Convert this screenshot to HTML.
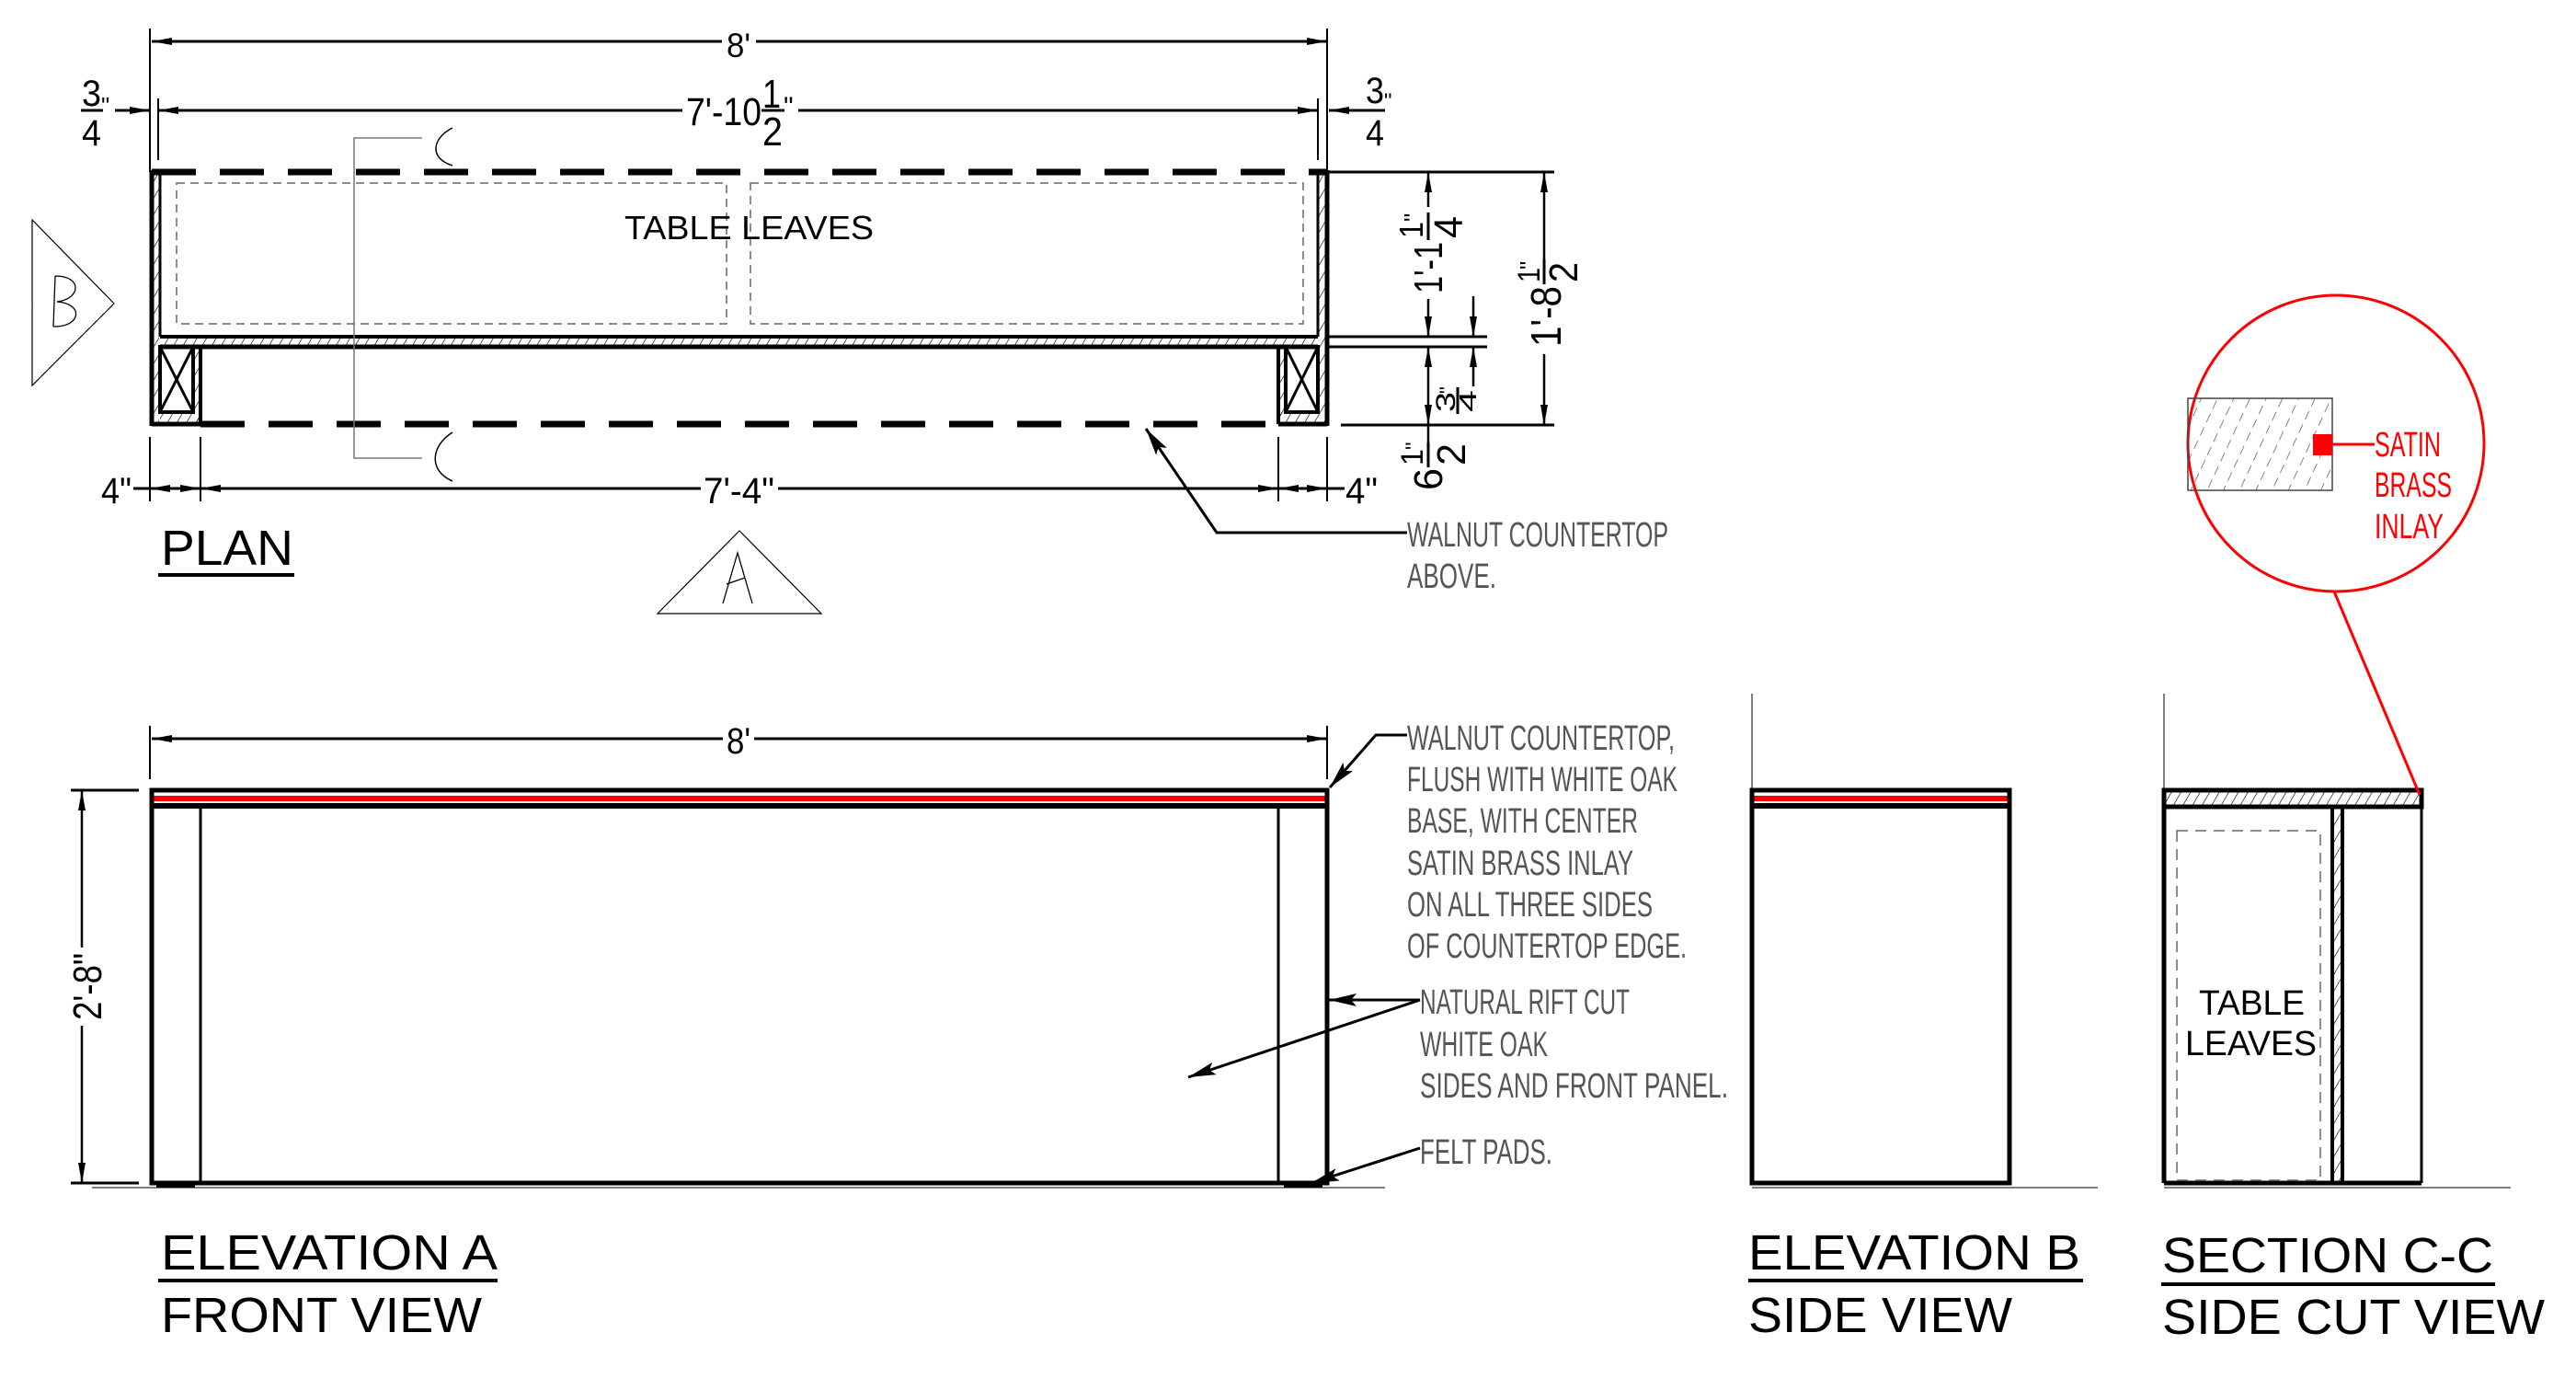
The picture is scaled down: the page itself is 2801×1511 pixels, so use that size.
<!DOCTYPE html>
<html><head><meta charset="utf-8"><style>
html,body{margin:0;padding:0;background:#fff}
svg{display:block}
text{font-family:"Liberation Sans",sans-serif}
.d{font-size:46px;fill:#000}
.t{font-size:54px;fill:#000}
.h{font-size:38px;fill:#555;font-weight:normal}
.r{font-size:38px;fill:#f00}
</style></head><body>
<svg width="2801" height="1511" viewBox="0 0 2801 1511" xmlns="http://www.w3.org/2000/svg">
<defs>
<marker id="a" viewBox="0 0 22 8" refX="22" refY="4" markerWidth="22" markerHeight="8" markerUnits="userSpaceOnUse" orient="auto-start-reverse"><path d="M0,0 L22,4 L0,8 z" fill="#000"/></marker>
<marker id="b" viewBox="0 0 30 14" refX="30" refY="7" markerWidth="30" markerHeight="14" markerUnits="userSpaceOnUse" orient="auto-start-reverse"><path d="M0,0 L30,7 L0,14 L6,7 z" fill="#000"/></marker>
<pattern id="hp" width="9" height="9" patternUnits="userSpaceOnUse" patternTransform="rotate(30)"><line x1="0" y1="0" x2="0" y2="9" stroke="#000" stroke-width="1.3"/></pattern>
<pattern id="hp2" width="16" height="16" patternUnits="userSpaceOnUse" patternTransform="rotate(25)"><line x1="0" y1="0" x2="0" y2="10" stroke="#444" stroke-width="1.3"/></pattern>
</defs>
<g stroke="#000" fill="none">
<line x1="163" y1="31" x2="163" y2="187" stroke-width="2"/>
<line x1="1443" y1="31" x2="1443" y2="187" stroke-width="2"/>
<line x1="165" y1="45" x2="785" y2="45" stroke-width="3" marker-start="url(#a)"/>
<line x1="822" y1="45" x2="1443" y2="45" stroke-width="3" marker-end="url(#a)"/>
<line x1="172" y1="107" x2="172" y2="174" stroke-width="2"/>
<line x1="1433" y1="107" x2="1433" y2="174" stroke-width="2"/>
<line x1="172" y1="120" x2="742" y2="120" stroke-width="3" marker-start="url(#a)"/>
<line x1="868" y1="120" x2="1433" y2="120" stroke-width="3" marker-end="url(#a)"/>
<line x1="125" y1="120" x2="163" y2="120" stroke-width="3" marker-end="url(#a)"/>
<line x1="1490" y1="120" x2="1445" y2="120" stroke-width="3" marker-end="url(#a)"/>
<line x1="165" y1="187" x2="1443" y2="187" stroke-width="7" stroke-dasharray="48 26"/>
<line x1="218" y1="461" x2="1390" y2="461" stroke-width="7" stroke-dasharray="48 26"/>
<rect x="166" y="187" width="7" height="274" fill="url(#hp)" stroke="none"/>
<rect x="1434" y="187" width="8" height="274" fill="url(#hp)" stroke="none"/>
<line x1="165" y1="185" x2="165" y2="463" stroke-width="5"/>
<line x1="174" y1="187" x2="174" y2="366" stroke-width="3"/>
<line x1="1443" y1="185" x2="1443" y2="463" stroke-width="5"/>
<line x1="1433" y1="187" x2="1433" y2="366" stroke-width="3"/>
<rect x="174" y="366" width="1259" height="10" fill="url(#hp)" stroke="none"/>
<line x1="174" y1="366" x2="1433" y2="366" stroke-width="4"/>
<line x1="174" y1="377" x2="1433" y2="377" stroke-width="5"/>
<rect x="192" y="199" width="598" height="153" stroke="#666" stroke-width="1.5" stroke-dasharray="9 6"/>
<rect x="816" y="199" width="601" height="153" stroke="#666" stroke-width="1.5" stroke-dasharray="9 6"/>
<rect x="210" y="377" width="8" height="84" fill="url(#hp)" stroke="none"/>
<rect x="174" y="448" width="44" height="12" fill="url(#hp)" stroke="none"/>
<rect x="174" y="377" width="36" height="71" stroke-width="4"/>
<line x1="174" y1="377" x2="210" y2="448" stroke-width="3"/><line x1="210" y1="377" x2="174" y2="448" stroke-width="3"/>
<line x1="218" y1="377" x2="218" y2="461" stroke-width="4"/>
<line x1="165" y1="461" x2="218" y2="461" stroke-width="5"/>
<rect x="1390" y="377" width="8" height="84" fill="url(#hp)" stroke="none"/>
<rect x="1390" y="448" width="44" height="12" fill="url(#hp)" stroke="none"/>
<rect x="1398" y="377" width="35" height="71" stroke-width="4"/>
<line x1="1398" y1="377" x2="1433" y2="448" stroke-width="3"/><line x1="1433" y1="377" x2="1398" y2="448" stroke-width="3"/>
<line x1="1390" y1="377" x2="1390" y2="461" stroke-width="4"/>
<line x1="1390" y1="461" x2="1443" y2="461" stroke-width="5"/>
<line x1="163" y1="475" x2="163" y2="545" stroke-width="2"/>
<line x1="218" y1="475" x2="218" y2="545" stroke-width="2"/>
<line x1="1390" y1="475" x2="1390" y2="545" stroke-width="2"/>
<line x1="1443" y1="475" x2="1443" y2="545" stroke-width="2"/>
<line x1="145" y1="531" x2="163" y2="531" stroke-width="3"/>
<line x1="163" y1="531" x2="218" y2="531" stroke-width="3" marker-start="url(#a)" marker-end="url(#a)"/>
<line x1="218" y1="531" x2="762" y2="531" stroke-width="3" marker-start="url(#a)"/>
<line x1="846" y1="531" x2="1390" y2="531" stroke-width="3" marker-end="url(#a)"/>
<line x1="1390" y1="531" x2="1443" y2="531" stroke-width="3" marker-start="url(#a)" marker-end="url(#a)"/>
<line x1="1443" y1="531" x2="1462" y2="531" stroke-width="3"/>
<line x1="1445" y1="187" x2="1690" y2="187" stroke-width="3"/>
<line x1="1458" y1="462" x2="1690" y2="462" stroke-width="3"/>
<line x1="1445" y1="366" x2="1617" y2="366" stroke-width="3"/>
<line x1="1445" y1="377" x2="1617" y2="377" stroke-width="3"/>
<line x1="1553" y1="225" x2="1553" y2="187" stroke-width="2.5" marker-end="url(#a)"/>
<line x1="1553" y1="325" x2="1553" y2="366" stroke-width="2.5" marker-end="url(#a)"/>
<line x1="1553" y1="420" x2="1553" y2="377" stroke-width="2.5" marker-end="url(#a)"/>
<line x1="1553" y1="420" x2="1553" y2="462" stroke-width="2.5" marker-end="url(#a)"/>
<line x1="1553" y1="462" x2="1553" y2="482" stroke-width="2.5"/>
<line x1="1602" y1="322" x2="1602" y2="366" stroke-width="2.5" marker-end="url(#a)"/>
<line x1="1602" y1="420" x2="1602" y2="377" stroke-width="2.5" marker-end="url(#a)"/>
<line x1="1679" y1="282" x2="1679" y2="187" stroke-width="2.5" marker-end="url(#a)"/>
<line x1="1679" y1="385" x2="1679" y2="462" stroke-width="2.5" marker-end="url(#a)"/>
<polyline points="459,150 385,150 385,498 459,498" stroke="#777" stroke-width="1.5"/>
<path d="M492,139 C470,150 466,172 492,180" stroke-width="1.5"/>
<path d="M492,470 C468,485 466,512 492,523" stroke-width="1.5"/>
<polygon points="35,239 124,330 35,419" stroke-width="1.2"/>
<path d="M60,300 L58,355 M60,300 C90,300 88,325 62,328 C92,330 88,356 58,355" stroke-width="1.3"/>
<polygon points="804,577 715,667 893,667" stroke-width="1.2"/>
<path d="M786,656 L802,601 L818,656 M790,635 L810,628" stroke-width="1.3"/>
<polyline points="1530,579 1323,579 1246,466" stroke-width="3" marker-end="url(#b)"/>
<line x1="172" y1="625" x2="320" y2="625" stroke-width="4"/>
<line x1="172" y1="1392" x2="541" y2="1392" stroke-width="4"/>
<line x1="1901" y1="1392" x2="2265" y2="1392" stroke-width="4"/>
<line x1="2350" y1="1396" x2="2713" y2="1396" stroke-width="4"/>
<line x1="163" y1="789" x2="163" y2="847" stroke-width="2"/>
<line x1="1443" y1="789" x2="1443" y2="847" stroke-width="2"/>
<line x1="165" y1="803" x2="786" y2="803" stroke-width="3" marker-start="url(#a)"/>
<line x1="820" y1="803" x2="1443" y2="803" stroke-width="3" marker-end="url(#a)"/>
<line x1="77" y1="859" x2="151" y2="859" stroke-width="3"/>
<line x1="77" y1="1286" x2="151" y2="1286" stroke-width="3"/>
<line x1="89" y1="1030" x2="89" y2="859" stroke-width="2.5" marker-end="url(#a)"/>
<line x1="89" y1="1115" x2="89" y2="1286" stroke-width="2.5" marker-end="url(#a)"/>
<line x1="100" y1="1291" x2="1506" y2="1291" stroke="#555" stroke-width="1.5"/>
<line x1="165" y1="859" x2="1443" y2="859" stroke-width="5"/>
<line x1="165" y1="868" x2="1443" y2="868" stroke="#f00" stroke-width="6"/>
<line x1="165" y1="876" x2="1443" y2="876" stroke-width="6"/>
<rect x="165" y="859" width="1278" height="427" stroke-width="5"/>
<line x1="218" y1="876" x2="218" y2="1286" stroke-width="3"/>
<line x1="1390" y1="876" x2="1390" y2="1286" stroke-width="3"/>
<rect x="170" y="1284" width="42" height="7" fill="#000" stroke="none"/>
<rect x="1396" y="1284" width="42" height="7" fill="#000" stroke="none"/>
<polyline points="1530,799 1496,799 1446,856" stroke-width="3" marker-end="url(#b)"/>
<line x1="1544" y1="1087" x2="1445" y2="1087" stroke-width="3" marker-end="url(#b)"/>
<line x1="1544" y1="1087" x2="1292" y2="1171" stroke-width="3" marker-end="url(#b)"/>
<line x1="1544" y1="1248" x2="1426" y2="1286" stroke-width="3" marker-end="url(#b)"/>
<line x1="1905" y1="754" x2="1905" y2="859" stroke="#555" stroke-width="1.5"/>
<line x1="1905" y1="1291" x2="2281" y2="1291" stroke="#555" stroke-width="1.5"/>
<line x1="1905" y1="859" x2="2185" y2="859" stroke-width="5"/>
<line x1="1905" y1="868" x2="2185" y2="868" stroke="#f00" stroke-width="6"/>
<line x1="1905" y1="876" x2="2185" y2="876" stroke-width="6"/>
<rect x="1905" y="859" width="280" height="427" stroke-width="5"/>
<line x1="2353" y1="754" x2="2353" y2="859" stroke="#555" stroke-width="1.5"/>
<line x1="2353" y1="1291" x2="2730" y2="1291" stroke="#555" stroke-width="1.5"/>
<rect x="2353" y="860" width="280" height="16" fill="url(#hp)" stroke="none"/>
<rect x="2353" y="859" width="280" height="18" stroke-width="5"/>
<rect x="2538" y="877" width="8" height="409" fill="url(#hp)" stroke="none"/>
<line x1="2536" y1="877" x2="2536" y2="1286" stroke-width="4"/>
<line x1="2547" y1="877" x2="2547" y2="1286" stroke-width="4"/>
<line x1="2353" y1="877" x2="2353" y2="1286" stroke-width="5"/>
<line x1="2633" y1="877" x2="2633" y2="1286" stroke-width="3"/>
<line x1="2353" y1="1286" x2="2633" y2="1286" stroke-width="5"/>
<rect x="2367" y="903" width="156" height="380" stroke="#666" stroke-width="1.5" stroke-dasharray="12 8"/>
<circle cx="2540" cy="482" r="161" stroke="#f00" stroke-width="3"/>
<rect x="2379" y="433" width="157" height="100" fill="url(#hp2)" stroke="#444" stroke-width="1.5"/>
<rect x="2515" y="472" width="21" height="23" fill="#f00" stroke="none"/>
<line x1="2536" y1="483" x2="2582" y2="483" stroke="#f00" stroke-width="3"/>
<line x1="2538" y1="643" x2="2631" y2="864" stroke="#f00" stroke-width="3"/>
</g>
<text class="d" x="790" y="62" textLength="26" lengthAdjust="spacingAndGlyphs" style="font-size:37px">8'</text>
<text class="d" x="746" y="136" textLength="82" lengthAdjust="spacingAndGlyphs" style="font-size:43px">7'-10</text>
<text class="d" x="829" y="117" textLength="20" lengthAdjust="spacingAndGlyphs" style="font-size:44px">1</text>
<line x1="828" y1="120" x2="853" y2="120" stroke="#000" stroke-width="3"/>
<text class="d" x="829" y="158" textLength="22" lengthAdjust="spacingAndGlyphs" style="font-size:44px">2</text>
<text class="d" x="852" y="126" style="font-size:30px">"</text>
<text class="d" x="89" y="115" textLength="21" lengthAdjust="spacingAndGlyphs" style="font-size:40px">3</text>
<line x1="88" y1="120" x2="112" y2="120" stroke="#000" stroke-width="3"/>
<text class="d" x="89" y="158" textLength="21" lengthAdjust="spacingAndGlyphs" style="font-size:40px">4</text>
<text class="d" x="110" y="124" style="font-size:26px">"</text>
<text class="d" x="1485" y="112" textLength="20" lengthAdjust="spacingAndGlyphs" style="font-size:40px">3</text>
<line x1="1484" y1="120" x2="1506" y2="120" stroke="#000" stroke-width="3"/>
<text class="d" x="1485" y="158" textLength="20" lengthAdjust="spacingAndGlyphs" style="font-size:40px">4</text>
<text class="d" x="1505" y="118" style="font-size:24px">"</text>
<text class="d" x="110" y="547" textLength="33" lengthAdjust="spacingAndGlyphs" style="font-size:40px">4"</text>
<text class="d" x="765" y="547" textLength="77" lengthAdjust="spacingAndGlyphs" style="font-size:40px">7'-4"</text>
<text class="d" x="1463" y="547" textLength="35" lengthAdjust="spacingAndGlyphs" style="font-size:40px">4"</text>
<text class="d" x="790" y="819" textLength="26" lengthAdjust="spacingAndGlyphs" style="font-size:40px">8'</text>
<g transform="translate(110,1109) rotate(-90)"><text class="d" x="0" y="0" textLength="73" lengthAdjust="spacingAndGlyphs" style="font-size:44px">2'-8"</text></g>
<g transform="translate(1553,319) rotate(-90)">
<text class="d" x="0" y="15" textLength="56" lengthAdjust="spacingAndGlyphs" style="font-size:44px">1'-1</text>
<text class="d" x="60" y="-6" textLength="18" lengthAdjust="spacingAndGlyphs" style="font-size:36px">1</text>
<line x1="58" y1="0" x2="88" y2="0" stroke="#000" stroke-width="3"/>
<text class="d" x="60" y="37" textLength="24" lengthAdjust="spacingAndGlyphs" style="font-size:44px">4</text>
<text class="d" x="78" y="-8" style="font-size:26px">"</text></g>
<g transform="translate(1679,377) rotate(-90)">
<text class="d" x="0" y="18" textLength="66" lengthAdjust="spacingAndGlyphs" style="font-size:46px">1'-8</text>
<text class="d" x="70" y="-5" textLength="16" lengthAdjust="spacingAndGlyphs" style="font-size:34px">1</text>
<line x1="68" y1="0" x2="95" y2="0" stroke="#000" stroke-width="3"/>
<text class="d" x="70" y="36" textLength="22" lengthAdjust="spacingAndGlyphs" style="font-size:44px">2</text>
<text class="d" x="84" y="-8" style="font-size:26px">"</text></g>
<g transform="translate(1585,448) rotate(-90)">
<text class="d" x="0" y="-3" textLength="22" lengthAdjust="spacingAndGlyphs" style="font-size:30px">3</text>
<line x1="-2" y1="0" x2="27" y2="0" stroke="#000" stroke-width="3"/>
<text class="d" x="0" y="20" textLength="24" lengthAdjust="spacingAndGlyphs" style="font-size:26px">4</text>
<text class="d" x="20" y="-4" style="font-size:22px">"</text></g>
<g transform="translate(1553,533) rotate(-90)">
<text class="d" x="0" y="15" textLength="24" lengthAdjust="spacingAndGlyphs" style="font-size:44px">6</text>
<text class="d" x="27" y="-6" textLength="18" lengthAdjust="spacingAndGlyphs" style="font-size:34px">1</text>
<line x1="25" y1="0" x2="52" y2="0" stroke="#000" stroke-width="3"/>
<text class="d" x="27" y="40" textLength="24" lengthAdjust="spacingAndGlyphs" style="font-size:44px">2</text>
<text class="d" x="44" y="-8" style="font-size:24px">"</text></g>
<text class="d" x="679" y="260" textLength="271" lengthAdjust="spacingAndGlyphs" style="font-size:36px">TABLE LEAVES</text>
<text class="d" x="2391" y="1103" textLength="115" lengthAdjust="spacingAndGlyphs" style="font-size:38px">TABLE</text>
<text class="d" x="2376" y="1147" textLength="143" lengthAdjust="spacingAndGlyphs" style="font-size:38px">LEAVES</text>
<text class="t" x="175" y="614" textLength="144" lengthAdjust="spacingAndGlyphs">PLAN</text>
<text class="t" x="175" y="1380" textLength="366" lengthAdjust="spacingAndGlyphs">ELEVATION A</text>
<text class="t" x="175" y="1448" textLength="349" lengthAdjust="spacingAndGlyphs">FRONT VIEW</text>
<text class="t" x="1901" y="1380" textLength="361" lengthAdjust="spacingAndGlyphs">ELEVATION B</text>
<text class="t" x="1901" y="1448" textLength="287" lengthAdjust="spacingAndGlyphs">SIDE VIEW</text>
<text class="t" x="2351" y="1383" textLength="360" lengthAdjust="spacingAndGlyphs">SECTION C-C</text>
<text class="t" x="2351" y="1450" textLength="416" lengthAdjust="spacingAndGlyphs">SIDE CUT VIEW</text>
<text class="h" x="1530" y="594" textLength="284" lengthAdjust="spacingAndGlyphs">WALNUT COUNTERTOP</text>
<text class="h" x="1530" y="639" textLength="97" lengthAdjust="spacingAndGlyphs">ABOVE.</text>
<text class="h" x="1530" y="815" textLength="291" lengthAdjust="spacingAndGlyphs">WALNUT COUNTERTOP,</text>
<text class="h" x="1530" y="860" textLength="294" lengthAdjust="spacingAndGlyphs">FLUSH WITH WHITE OAK</text>
<text class="h" x="1530" y="905" textLength="251" lengthAdjust="spacingAndGlyphs">BASE, WITH CENTER</text>
<text class="h" x="1530" y="951" textLength="246" lengthAdjust="spacingAndGlyphs">SATIN BRASS INLAY</text>
<text class="h" x="1530" y="996" textLength="267" lengthAdjust="spacingAndGlyphs">ON ALL THREE SIDES</text>
<text class="h" x="1530" y="1041" textLength="304" lengthAdjust="spacingAndGlyphs">OF COUNTERTOP EDGE.</text>
<text class="h" x="1544" y="1102" textLength="228" lengthAdjust="spacingAndGlyphs">NATURAL RIFT CUT</text>
<text class="h" x="1544" y="1148" textLength="139" lengthAdjust="spacingAndGlyphs">WHITE OAK</text>
<text class="h" x="1544" y="1193" textLength="335" lengthAdjust="spacingAndGlyphs">SIDES AND FRONT PANEL.</text>
<text class="h" x="1544" y="1265" textLength="144" lengthAdjust="spacingAndGlyphs">FELT PADS.</text>
<text class="r" x="2582" y="496" textLength="72" lengthAdjust="spacingAndGlyphs">SATIN</text>
<text class="r" x="2582" y="540" textLength="84" lengthAdjust="spacingAndGlyphs">BRASS</text>
<text class="r" x="2582" y="585" textLength="75" lengthAdjust="spacingAndGlyphs">INLAY</text>
</svg>
</body></html>
